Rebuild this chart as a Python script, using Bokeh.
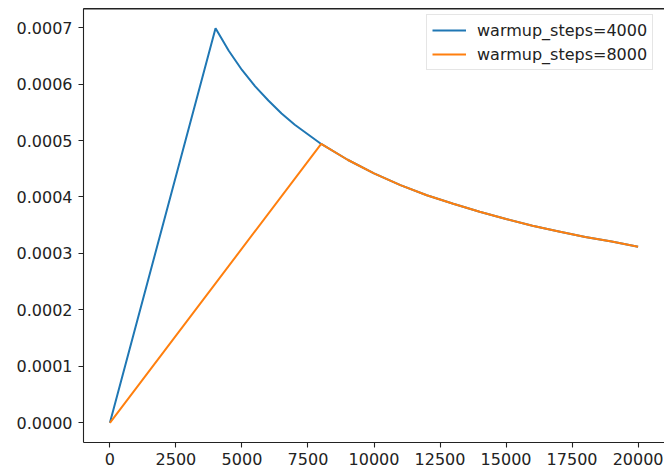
from bokeh.plotting import figure
from bokeh.models import (Range1d, FixedTicker, PrintfTickFormatter, Legend,
                          LegendItem, LinearAxis, Span)
from bokeh.embed import file_html
from bokeh.resources import INLINE

# Learning-rate values
steps_4000 = [0, 4000, 4500, 5000, 5500, 6000, 6500, 7000, 8000, 9000, 10000,
              11000, 12000, 13000, 14000, 15000, 16000, 17000, 18000, 19000, 20000]
lr_4000 = [0.0, 0.000699, 0.000659, 0.000625, 0.000596, 0.000571, 0.000548,
           0.000528, 0.000494, 0.000466, 0.000442, 0.000421, 0.000403, 0.000388,
           0.000374, 0.000361, 0.000349, 0.000339, 0.000329, 0.000321, 0.000312]

steps_8000 = [0, 8000, 9000, 10000, 11000, 12000, 13000, 14000, 15000, 16000,
              17000, 18000, 19000, 20000]
lr_8000 = [0.0, 0.000494, 0.000466, 0.000442, 0.000421, 0.000403, 0.000388,
           0.000374, 0.000361, 0.000349, 0.000339, 0.000329, 0.000321, 0.000312]

series_labels = ["warmup_steps=4000", "warmup_steps=8000"]
series_colors = ["#1f77b4", "#ff7f0e"]

x_ticks = [0, 2500, 5000, 7500, 10000, 12500, 15000, 17500, 20000]
y_ticks = [0.0, 0.0001, 0.0002, 0.0003, 0.0004, 0.0005, 0.0006, 0.0007]

y_max = 0.000699
y_pad = y_max * 0.05

p = figure(width=664, height=470, output_backend="svg", toolbar_location=None,
           x_range=Range1d(-1000, 21000),
           y_range=Range1d(-y_pad, y_max + y_pad),
           min_border_left=83, min_border_right=0, min_border_top=8,
           min_border_bottom=28)
p.outline_line_color = None
p.background_fill_color = "white"
p.border_fill_color = "white"
p.xgrid.visible = False
p.ygrid.visible = False

r1 = p.line(steps_4000, lr_4000, line_color=series_colors[0], line_width=2.0)
r2 = p.line(steps_8000, lr_8000, line_color=series_colors[1], line_width=2.0)

for ax in (p.xaxis[0], p.yaxis[0]):
    ax.axis_line_color = "#222222"
    ax.axis_line_width = 1.1
    ax.major_tick_line_color = "#222222"
    ax.major_tick_line_width = 1.1
    ax.major_tick_out = 5
    ax.major_tick_in = 0
    ax.minor_tick_line_color = None
    ax.major_label_text_font = "DejaVu Sans"
    ax.major_label_text_font_size = "16px"
    ax.major_label_text_color = "#222222"

p.xaxis[0].ticker = FixedTicker(ticks=x_ticks)
p.xaxis[0].major_label_standoff = 5
p.yaxis[0].ticker = FixedTicker(ticks=y_ticks)
p.yaxis[0].formatter = PrintfTickFormatter(format="%.4f")
p.yaxis[0].major_label_standoff = 6

# top spine: an axis above whose ticks and labels are invisible
top_axis = LinearAxis(ticker=FixedTicker(ticks=x_ticks),
                      major_tick_out=7, major_tick_in=0,
                      major_tick_line_alpha=0.0,
                      minor_tick_line_color=None,
                      major_label_standoff=0,
                      major_label_text_font_size="0px",
                      major_label_text_alpha=0.0,
                      axis_line_color="#222222", axis_line_width=1.1)
p.add_layout(top_axis, "above")

# backup line along the top edge of the frame
top_spine = Span(location=y_max + y_pad, dimension="width",
                 line_color="#222222", line_width=2, level="overlay")
p.add_layout(top_spine)

legend = Legend(items=[LegendItem(label=series_labels[0], renderers=[r1]),
                       LegendItem(label=series_labels[1], renderers=[r2])],
                location=(343, 372), margin=0, padding=5, spacing=4,
                glyph_width=34, glyph_height=20, label_standoff=11,
                label_text_font="DejaVu Sans", label_text_font_size="16px",
                label_text_color="#222222",
                border_line_color="#cccccc", border_line_width=1,
                background_fill_color="white", background_fill_alpha=0.8)
p.add_layout(legend, "center")

open("out.html", "w").write(file_html(p, INLINE))
